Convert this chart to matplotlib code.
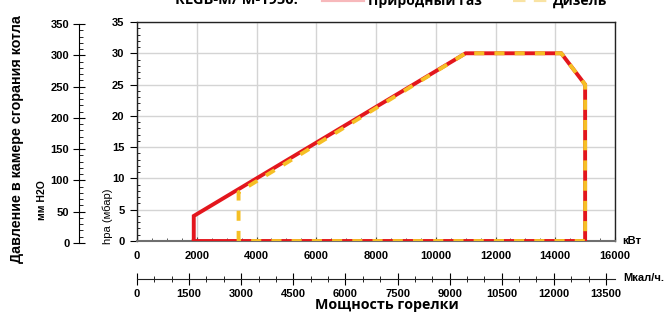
import matplotlib
matplotlib.use('Agg')
import matplotlib.pyplot as plt
from matplotlib.lines import Line2D
from matplotlib.ticker import MultipleLocator

# burner working field, kW vs mbar
gas_kw = [1900, 1900, 11000, 14200, 15000, 15000, 1900]
gas_mbar = [0, 4, 30, 30, 25, 0, 0]
diesel_kw = [3400, 3400, 11000, 14200, 15000, 15000, 3400]
diesel_mbar = [0, 7.8, 30, 30, 25, 0, 0]

kw_ticks = list(range(0, 16001, 2000))
kcal_ticks = list(range(0, 13501, 1500))
mbar_ticks = list(range(0, 36, 5))
mmh2o_ticks = list(range(0, 351, 50))

RED = '#e3161d'
YELLOW = '#f5bf25'
W, H = 672, 313

def fx(px):
    return px / W

def fy(py):
    return 1 - py / H

plt.rcParams['font.family'] = ['Liberation Sans', 'DejaVu Sans']

fig = plt.figure(figsize=(6.72, 3.13), dpi=100)

# main chart
ax = fig.add_axes([fx(137), fy(241), fx(615) - fx(137), fy(22) - fy(241)])
ax.set_xlim(0, 16000)
ax.set_ylim(0, 35)
ax.set_xticks(kw_ticks)
ax.set_yticks(mbar_ticks)
ax.xaxis.set_minor_locator(MultipleLocator(500))
ax.yaxis.set_minor_locator(MultipleLocator(1))
ax.grid(True, which='major', color='#d4d4d4', linewidth=1)
ax.set_axisbelow(True)
for s in ['top', 'right', 'left']:
    ax.spines[s].set_color('#222222')
    ax.spines[s].set_linewidth(1)
ax.spines['bottom'].set_color('#6f6f6f')
ax.spines['bottom'].set_linewidth(1.5)
ax.tick_params(axis='y', which='major', direction='out', length=5, labelsize=8, pad=4)
ax.tick_params(axis='y', which='minor', direction='in', length=2.5)
ax.tick_params(axis='x', which='major', direction='in', length=3, labelsize=8, pad=7, color='#444444')
ax.tick_params(axis='x', which='minor', direction='in', length=2, color='#444444')
for lab in ax.get_xticklabels() + ax.get_yticklabels():
    lab.set_fontweight('bold')

ax.plot(gas_kw, gas_mbar, color=RED, linewidth=2.8, solid_joinstyle='miter', zorder=3)
ax.plot(diesel_kw, diesel_mbar, color=YELLOW, linewidth=2.8, dashes=(2.6, 2.6), zorder=4)

fig.text(fx(108), fy(216), 'hpa (мбар)', fontsize=8, rotation=90, ha='center', va='center')
fig.text(fx(622), fy(241), 'кВт', fontsize=8, fontweight='bold', va='center', ha='left')

# left axis in mm H2O
axl = fig.add_axes([fx(79), fy(243), 0.002, fy(24) - fy(243)])
axl.set_ylim(0, 350)
axl.set_yticks(mmh2o_ticks)
axl.yaxis.set_minor_locator(MultipleLocator(10))
axl.set_xticks([])
for s in ['top', 'right', 'bottom']:
    axl.spines[s].set_visible(False)
axl.patch.set_visible(False)
axl.tick_params(axis='y', which='major', direction='inout', length=8, labelsize=8, pad=3)
axl.tick_params(axis='y', which='minor', direction='in', length=3)
for lab in axl.get_yticklabels():
    lab.set_fontweight('bold')

# bottom axis in Mcal/h
axk = fig.add_axes([fx(137), fy(279), fx(615) - fx(137), 0.002])
axk.set_xlim(0, 16000 * 0.86)
axk.set_xticks(kcal_ticks)
axk.xaxis.set_minor_locator(MultipleLocator(500))
axk.set_yticks([])
for s in ['top', 'right', 'left']:
    axk.spines[s].set_visible(False)
axk.patch.set_visible(False)
axk.spines['bottom'].set_color('#222222')
axk.tick_params(axis='x', which='major', direction='inout', length=8, labelsize=8, pad=3)
axk.tick_params(axis='x', which='minor', direction='inout', length=4)
for lab in axk.get_xticklabels():
    lab.set_fontweight('bold')
fig.text(fx(623), fy(278), 'Мкал/ч.', fontsize=8, fontweight='bold', va='center', ha='left')

fig.text(fx(387), fy(305), 'Мощность горелки', fontsize=10.3, fontweight='bold',
         family=['Open Sans', 'DejaVu Sans'], ha='center', va='center')

fig.text(fx(17), fy(139), 'Давление в камере сгорания котла', fontsize=10.3,
         fontweight='bold', rotation=90, ha='center', va='center')
fig.text(fx(42), fy(200), 'мм H2O', fontsize=7.5, fontweight='bold',
         rotation=90, ha='center', va='center')

# top strip, cut off in the original picture
top_font = dict(fontweight='bold', family=['Open Sans', 'DejaVu Sans'], va='baseline')
fig.text(fx(175), fy(4.5), 'RLGB-M/ M-1950.', fontsize=10.5, ha='left', **top_font)
fig.add_artist(Line2D([fx(323), fx(363)], [1.0, 1.0], color='#f7b8bb', linewidth=3,
                      transform=fig.transFigure))
fig.text(fx(368), fy(4.5), 'Природный газ', fontsize=10, ha='left', **top_font)
fig.add_artist(Line2D([fx(513), fx(550)], [1.0, 1.0], color='#f9e3a3', linewidth=3,
                      dashes=(3, 2), transform=fig.transFigure))
fig.text(fx(553), fy(4.5), 'Дизель', fontsize=10, ha='left', **top_font)

fig.savefig('out.png', dpi=100)
